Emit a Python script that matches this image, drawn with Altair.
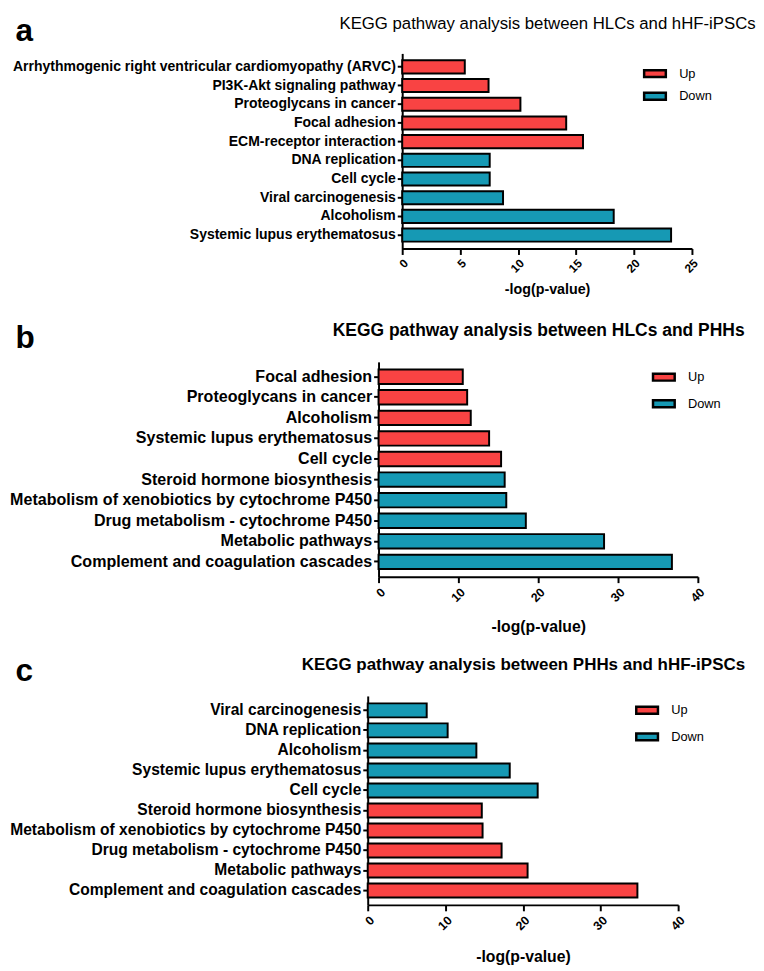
import altair as alt
import pandas as pd

RED = "#F94343"
TEAL = "#1699B4"
FONT = "Liberation Sans"

# Panel a
a_terms = ["Arrhythmogenic right ventricular cardiomyopathy (ARVC)", "PI3K-Akt signaling pathway",
           "Proteoglycans in cancer", "Focal adhesion", "ECM-receptor interaction", "DNA replication",
           "Cell cycle", "Viral carcinogenesis", "Alcoholism", "Systemic lupus erythematosus"]
a_vals = [5.4, 7.45, 10.2, 14.15, 15.6, 7.55, 7.55, 8.7, 18.25, 23.2]
a_dirs = ["Up"] * 5 + ["Down"] * 5
a_ticks = [0, 5, 10, 15, 20, 25]

# Panel b
b_terms = ["Focal adhesion", "Proteoglycans in cancer", "Alcoholism", "Systemic lupus erythematosus",
           "Cell cycle", "Steroid hormone biosynthesis", "Metabolism of xenobiotics by cytochrome P450",
           "Drug metabolism - cytochrome P450", "Metabolic pathways", "Complement and coagulation cascades"]
b_vals = [10.55, 11.1, 11.55, 13.85, 15.35, 15.8, 16.0, 18.45, 28.25, 36.75]
b_dirs = ["Up"] * 5 + ["Down"] * 5
b_ticks = [0, 10, 20, 30, 40]

# Panel c
c_terms = ["Viral carcinogenesis", "DNA replication", "Alcoholism", "Systemic lupus erythematosus",
           "Cell cycle", "Steroid hormone biosynthesis", "Metabolism of xenobiotics by cytochrome P450",
           "Drug metabolism - cytochrome P450", "Metabolic pathways", "Complement and coagulation cascades"]
c_vals = [7.6, 10.3, 14.0, 18.3, 21.9, 14.7, 14.8, 17.25, 20.6, 34.75]
c_dirs = ["Down"] * 5 + ["Up"] * 5
c_ticks = [0, 10, 20, 30, 40]

dirs_order = ["Up", "Down"]


def panel(terms, vals, dirs, ticks, title, title_weight, title_size, title_y,
          letter, letter_x, letter_y, width, height,
          ylab_size, xlab_size, xtitle_size, xtitle_y, leg_x, leg_y, leg_row,
          spacer_w, spacer_h):
    df = pd.DataFrame({"term": terms, "value": vals, "dir": dirs})
    xscale = alt.Scale(domain=[ticks[0], ticks[-1]], nice=False, zero=True)
    base = alt.Chart(df)
    bars = base.mark_bar(stroke="black", strokeWidth=2).encode(
        x=alt.X("value:Q", scale=xscale,
                axis=alt.Axis(values=ticks, title="-log(p-value)", grid=False,
                              labelAngle=-45, labelFontWeight="bold", labelFontSize=xlab_size,
                              labelFont=FONT, labelColor="black", labelPadding=3,
                              titleFont=FONT, titleFontSize=xtitle_size, titleFontWeight="bold",
                              titleColor="black", titleX=width / 2, titleY=xtitle_y,
                              titleAlign="center", titleBaseline="alphabetic",
                              domainColor="black", domainWidth=2, tickColor="black",
                              tickWidth=2, tickSize=6)),
        y=alt.Y("term:N", sort=terms,
                scale=alt.Scale(paddingInner=0.3, paddingOuter=0.37),
                axis=alt.Axis(title=letter, titleAngle=0, titleAlign="left",
                              titleBaseline="alphabetic", titleX=letter_x, titleY=letter_y,
                              titleFont=FONT, titleFontSize=32, titleFontWeight="bold",
                              titleColor="black",
                              labelFont=FONT, labelFontSize=ylab_size, labelFontWeight="bold",
                              labelColor="black", labelPadding=2, labelLimit=600,
                              domainColor="black", domainWidth=2, tickColor="black",
                              tickWidth=2, tickSize=5)),
        fill=alt.Fill("dir:N",
                      scale=alt.Scale(domain=dirs_order, range=[RED, TEAL]),
                      legend=alt.Legend(title=None, orient="none", legendX=leg_x, legendY=leg_y,
                                        symbolType="M-1,-0.32L1,-0.32L1,0.32L-1,0.32Z",
                                        symbolSize=484, symbolStrokeColor="black",
                                        symbolStrokeWidth=2.5, symbolOpacity=1,
                                        labelFont=FONT, labelFontSize=13, labelColor="black",
                                        labelOffset=12, rowPadding=leg_row, padding=0)),
    )
    heading = base.mark_bar(opacity=0).encode(
        x=alt.X("value:Q", scale=xscale,
                axis=alt.Axis(orient="top", title=title, domain=False, ticks=False, labels=False,
                              grid=False, titleX=width / 2, titleY=title_y, titleAlign="center",
                              titleBaseline="alphabetic", titleFont=FONT, titleFontSize=title_size,
                              titleFontWeight=title_weight, titleColor="black")),
        y=alt.Y("term:N", sort=terms, axis=None),
    )
    layered = alt.layer(bars, heading).resolve_axis(x="independent", y="independent").properties(
        width=width, height=height)
    spacer = alt.Chart(pd.DataFrame({"s": []})).mark_point(opacity=0).properties(
        width=spacer_w, height=spacer_h,
        view=alt.ViewBackground(fill="transparent", strokeWidth=0))
    return alt.hconcat(spacer, layered, spacing=0).resolve_scale(fill="independent")


pa = panel(a_terms, a_vals, a_dirs, a_ticks,
           "KEGG pathway analysis between HLCs and hHF-iPSCs", "normal", 17, -25,
           "a", -393, -13, 294, 198, 14.2, 12, 14.5, 46, 244, 8, 1, 4, 252)
pb = panel(b_terms, b_vals, b_dirs, b_ticks,
           "KEGG pathway analysis between HLCs and PHHs", "bold", 17.7, -27,
           "b", -369, -15, 324, 218, 16.3, 12.5, 16, 56, 277, 3, 5, 1, 1)
pc = panel(c_terms, c_vals, c_dirs, c_ticks,
           "KEGG pathway analysis between PHHs and hHF-iPSCs", "bold", 17.2, -27,
           "c", -358, -16, 315, 212, 15.8, 12.5, 16, 57, 271, 2, 5, 1, 1)

chart = alt.vconcat(pa, pb, pc, spacing=20).resolve_scale(fill="independent").properties(
    padding={"left": 0, "top": 0, "right": 0, "bottom": 0},
).configure_view(strokeWidth=0)

chart.save("out.html", embed_options={"renderer": "svg", "actions": False})
